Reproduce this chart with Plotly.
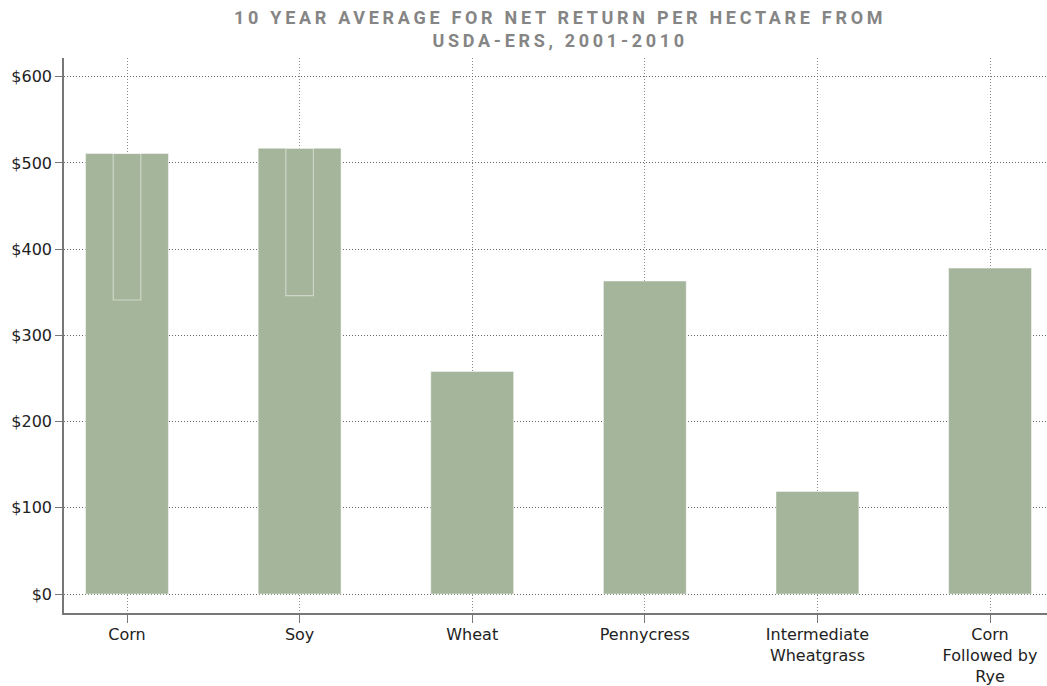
import plotly.graph_objects as go

categories = ["Corn", "Soy", "Wheat", "Pennycress", "Intermediate<br>Wheatgrass", "Corn<br>Followed by<br>Rye"]
net_return = [511, 517, 258, 363, 119, 378]
range_low = [341, 346, None, None, None, None]
range_high = [511, 517, None, None, None, None]
y_ticks = [0, 100, 200, 300, 400, 500, 600]
y_tick_labels = ["$0", "$100", "$200", "$300", "$400", "$500", "$600"]

bar_color = "#a4b59b"
font_family = "DejaVu Sans, sans-serif"
title_family = "Roboto, DejaVu Sans, sans-serif"

x_idx = list(range(len(categories)))

fig = go.Figure()
fig.add_trace(go.Bar(
    x=x_idx, y=net_return, width=0.48,
    marker=dict(color=bar_color, line=dict(color="rgba(255,255,255,0.45)", width=1)),
    hoverinfo="y",
))
rx = [i for i, v in zip(x_idx, range_low) if v is not None]
rb = [v for v in range_low if v is not None]
rh = [h - l for h, l in zip(range_high, range_low) if l is not None]
fig.add_trace(go.Bar(
    x=rx, y=rh, base=rb, width=0.16,
    marker=dict(color="rgba(0,0,0,0)", line=dict(color="rgba(255,255,255,0.45)", width=1.2)),
    hoverinfo="skip",
))

fig.update_layout(
    template="none",
    width=1047, height=686,
    margin=dict(l=64, r=0, t=58, b=73, autoexpand=False),
    paper_bgcolor="white", plot_bgcolor="white",
    barmode="overlay",
    showlegend=False,
    font=dict(family=font_family, size=16, color="#222"),
    title=dict(
        text="<b>10 YEAR AVERAGE FOR NET RETURN PER HECTARE FROM<br>USDA-ERS, 2001-2010</b>",
        x=0.535, xanchor="center", xref="container",
        y=0.965, yanchor="top", yref="container",
        font=dict(family=title_family, size=18, color="#858585"),
        automargin=False,
    ),
    xaxis=dict(
        range=[-0.365, 5.33],
        tickmode="array", tickvals=x_idx, ticktext=categories,
        showgrid=True, gridcolor="#888", griddash="1px,2px", gridwidth=1,
        showline=True, linecolor="#777", linewidth=1.5,
        ticks="outside", ticklen=8, tickcolor="#777", tickwidth=1,
        ticklabelstandoff=-2,
        zeroline=False, automargin=False,
    ),
    yaxis=dict(
        range=[-22, 621.7],
        tickmode="array", tickvals=y_ticks, ticktext=y_tick_labels,
        showgrid=True, gridcolor="#666", griddash="1px,2px", gridwidth=1,
        showline=True, linecolor="#777", linewidth=1.5,
        ticks="outside", ticklen=7, tickcolor="#777", tickwidth=1,
        zeroline=False, automargin=False,
    ),
)

post_js = """
document.body.style.margin='0';
function sp(){document.querySelectorAll('.gtitle').forEach(function(e){e.style.letterSpacing='3.7px';});}
sp(); var gd=document.getElementsByClassName('plotly-graph-div')[0]; if(gd&&gd.on){gd.on('plotly_afterplot',sp);}
"""
fig.write_html("out.html", post_script=post_js, config={"displayModeBar": False})
